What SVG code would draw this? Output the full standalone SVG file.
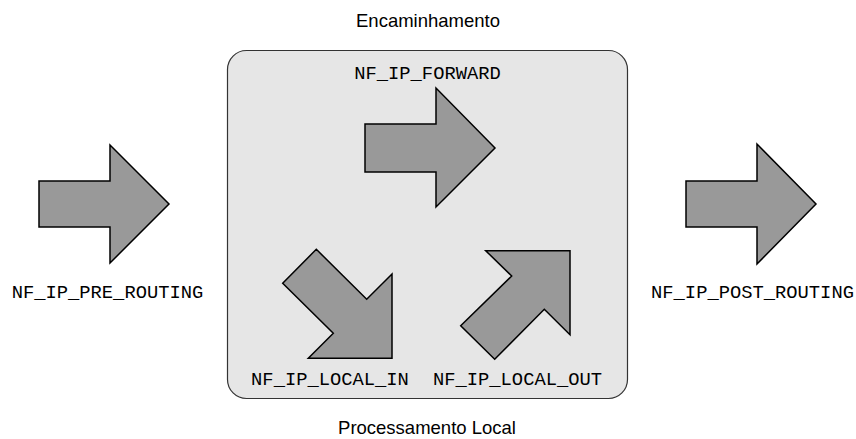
<svg xmlns="http://www.w3.org/2000/svg" width="856" height="439" viewBox="0 0 856 439">
<style>
.arrow{fill:#999999;stroke:#000000;stroke-width:1.5;stroke-linejoin:miter}
.mono{font-family:"Liberation Mono","Courier New",monospace;font-size:18.8px;fill:#000;text-anchor:middle}
.sans{font-family:"Liberation Sans",Arial,sans-serif;font-size:18.5px;fill:#000;text-anchor:middle}
.box{fill:#e6e6e6;stroke:#333333;stroke-width:1.2}
</style>
<rect width="856" height="439" fill="#ffffff"/>
<g id="region-box">
<rect class="box" x="227.5" y="50.5" width="400" height="348" rx="19" ry="19"/>
</g>
<text class="sans" x="428" y="26.5">Encaminhamento</text>
<text class="sans" x="427" y="434">Processamento Local</text>
<g id="connectors"></g>
<g id="pre-routing">
<polygon class="arrow" points="39,181 110,181 110,145 169,204 110,263 110,227 39,227"/>
<text class="mono" x="107.5" y="298">NF_IP_PRE_ROUTING</text>
</g>
<g id="forward">
<polygon class="arrow" points="365,124 436,124 436,88 495,148 436,207 436,172 365,172"/>
<text class="mono" x="427.5" y="79">NF_IP_FORWARD</text>
</g>
<g id="local-in">
<polygon class="arrow" points="316.3,249.3 366.7,299.3 392,274 392,358.3 308.3,358.3 333.3,333.3 282.7,283.3"/>
<text class="mono" x="330" y="385">NF_IP_LOCAL_IN</text>
</g>
<g id="local-out">
<polygon class="arrow" points="485.7,250.7 570,250.7 570,334.7 544.3,309.3 494.7,359.3 460.7,325.7 511.7,276"/>
<text class="mono" x="517.5" y="385">NF_IP_LOCAL_OUT</text>
</g>
<g id="post-routing">
<polygon class="arrow" points="686,181 757,181 757,144 816,204 757,264 757,227 686,227"/>
<text class="mono" x="752.5" y="298">NF_IP_POST_ROUTING</text>
</g>
</svg>
